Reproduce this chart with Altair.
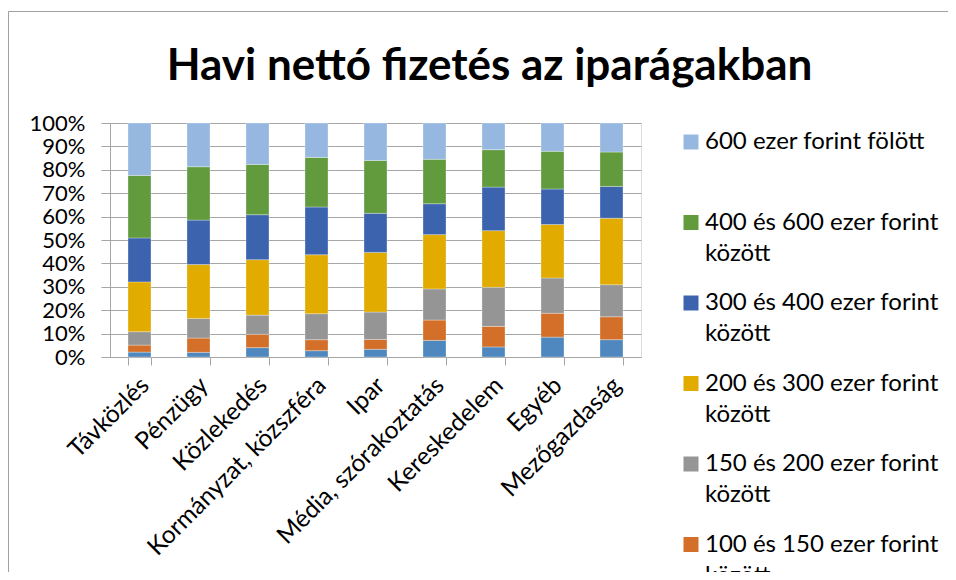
import altair as alt
import pandas as pd

categories = ["Távközlés", "Pénzügy", "Közlekedés", "Kormányzat, közszféra", "Ipar",
              "Média, szórakoztatás", "Kereskedelem", "Egyéb", "Mezőgazdaság"]

series_names = ["100 ezer forint alatt",
                "100 és 150 ezer forint között",
                "150 és 200 ezer forint között",
                "200 és 300 ezer forint között",
                "300 és 400 ezer forint között",
                "400 és 600 ezer forint között",
                "600 ezer forint fölött"]

s_lt100 = [2.1, 2.0, 4.0, 2.7, 3.3, 7.1, 4.3, 8.5, 7.4]
s_100_150 = [3.0, 6.1, 5.7, 4.7, 4.2, 8.7, 8.8, 10.2, 9.8]
s_150_200 = [5.7, 8.4, 8.2, 11.1, 11.7, 13.3, 16.7, 15.1, 13.7]
s_200_300 = [21.3, 23.0, 23.7, 25.2, 25.5, 23.2, 24.2, 22.8, 28.4]
s_300_400 = [18.8, 19.0, 19.2, 20.4, 16.7, 13.2, 18.6, 15.2, 13.6]
s_400_600 = [26.7, 22.8, 21.5, 21.2, 22.6, 19.0, 16.0, 16.1, 14.7]
s_600 = [22.4, 18.7, 17.7, 14.7, 16.0, 15.5, 11.4, 12.1, 12.4]

colors = ["#4F88BE", "#D46F29", "#959595", "#E1AB00", "#3C64AE", "#629B3E", "#96B8E0"]

all_series = [s_lt100, s_100_150, s_150_200, s_200_300, s_300_400, s_400_600, s_600]

rows = []
for si, (name, vals) in enumerate(zip(series_names, all_series)):
    for cat, v in zip(categories, vals):
        rows.append({"cat": cat, "series": name, "val": v, "idx": si})
df = pd.DataFrame(rows)

FONT = "Lato"
GRID = "#A6A6A6"
Y_FS = 22
X_FS = 24.5
LEG_FS = 24

frame = alt.Chart(alt.Data(values=[{"f": 1}])).mark_rect(
    fillOpacity=0, stroke="#A0A0A0", strokeWidth=1
).encode(
    x=alt.value(-101.5), x2=alt.value(900),
    y=alt.value(-111.5), y2=alt.value(520)
)

label_expr = ("indexof(datum.label, ' között') >= 0 ? "
              "[replace(datum.label, ' között', ''), 'között'] : [datum.label, ' ']")

bars = alt.Chart(df).mark_bar(stroke="white", strokeWidth=0.6, strokeOpacity=0.5).encode(
    x=alt.X("cat:N", sort=categories,
            scale=alt.Scale(paddingInner=0.61, paddingOuter=0.305),
            axis=alt.Axis(title=None, labelAngle=-45, labelFontSize=X_FS, labelFont=FONT,
                          labelColor="#000000", tickBand="extent", tickSize=8,
                          tickColor=GRID, domainColor=GRID, labelPadding=8,
                          labelOffset=-3, grid=False, labelLimit=400)),
    y=alt.Y("val:Q", stack="normalize", scale=alt.Scale(domain=[0, 1], nice=False),
            axis=alt.Axis(title=None, format=".0%",
                          values=[0, 0.1, 0.2, 0.3, 0.4, 0.5, 0.6, 0.7, 0.8, 0.9, 1.0],
                          labelFontSize=Y_FS, labelFont=FONT, labelColor="#000000",
                          labelOverlap=False,
                          tickSize=9, tickColor=GRID, domainColor=GRID, gridColor=GRID,
                          grid=True, labelPadding=16)),
    color=alt.Color("series:N",
                    scale=alt.Scale(domain=series_names[::-1], range=colors[::-1]),
                    legend=alt.Legend(title=None, orient="none", legendX=569, legendY=7,
                                      direction="vertical", symbolType="square",
                                      symbolSize=225, symbolStrokeWidth=0,
                                      labelFontSize=LEG_FS, labelFont=FONT,
                                      labelColor="#000000",
                                      labelOffset=2, rowPadding=25.5, labelLimit=400,
                                      labelExpr=label_expr)),
    order=alt.Order("idx:Q", sort="ascending"),
)

chart = alt.layer(frame, bars).properties(
    width=531, height=234,
    title=alt.Title("Havi nettó fizetés az iparágakban", fontSize=44, font=FONT,
                    fontWeight="bold", color="#000000", anchor="middle", frame="group",
                    baseline="alphabetic", dx=114, offset=0, dy=113),
    autosize=alt.AutoSizeParams(type="none"),
    padding={"left": 102, "top": 115, "right": 307, "bottom": 215},
).configure_view(stroke=None).configure(
    style={"guide-label": {"lineHeight": 31}}
)

chart.save("out.html", embed_options={"renderer": "svg", "actions": False})
